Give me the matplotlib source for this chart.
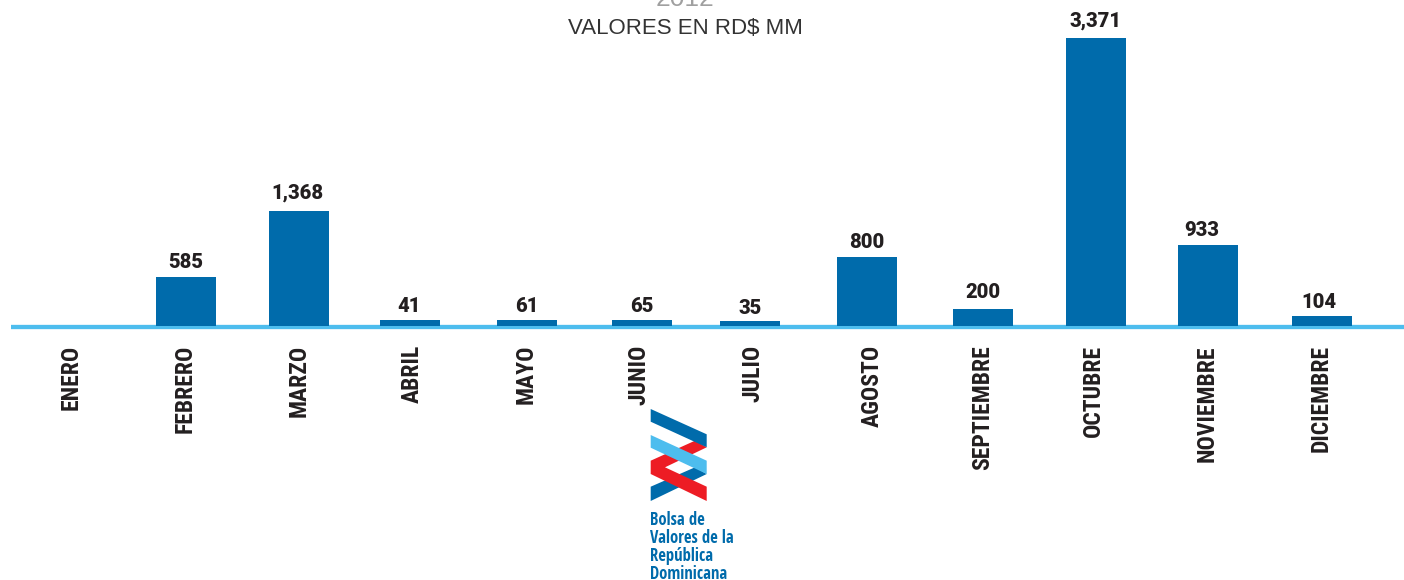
import matplotlib
matplotlib.use("Agg")
import matplotlib.pyplot as plt
from matplotlib.patches import Polygon

meses = ["ENERO", "FEBRERO", "MARZO", "ABRIL", "MAYO", "JUNIO", "JULIO", "AGOSTO",
         "SEPTIEMBRE", "OCTUBRE", "NOVIEMBRE", "DICIEMBRE"]
valores = ["", "585", "1,368", "41", "61", "65", "35", "800", "200", "3,371", "933", "104"]
# alturas como se ven en el dibujo (las barras chicas salen mas altas que su valor)
alturas = [0, 575, 1347, 70, 70, 70, 58, 808, 199, 3371, 948, 117]

# layout en pixeles, el original no esta espaciado parejo
x_barras = [72, 186, 299, 410, 527, 642, 750, 867, 983, 1096, 1208, 1322]
x_meses = [71, 185, 299, 412, 526, 639, 753, 872, 983, 1093, 1207, 1321]
x_valores = [72, 186, 297, 409, 527, 642, 750, 867, 983, 1095, 1202, 1319]
y_valores = [0, 260, 191, 305, 305, 305, 307, 240, 290, 19, 228, 301]
base = 326
escala = 288 / 3371

azul = "#006bab"
celeste = "#4dbdee"
rojo = "#ed1c24"
negro = "#231f20"

fig = plt.figure(figsize=(14.04, 5.80), dpi=100)
ax = fig.add_axes([0, 0, 1, 1])
ax.set_xlim(0, 1404)
ax.set_ylim(580, 0)
ax.axis("off")

ax.plot([11, 1404], [327, 327], color=celeste, lw=3.1, solid_capstyle="butt", zorder=1)

ax.bar(x_barras, [-h * escala for h in alturas], bottom=base, width=60, color=azul, zorder=2)

for i in range(len(meses)):
    ax.text(x_meses[i], 345, meses[i], rotation=90, ha="center", va="top", family="Roboto Condensed",
            weight="bold", fontsize=17, color=negro)
    if valores[i] != "":
        ax.text(x_valores[i], y_valores[i], valores[i], ha="center", va="center_baseline",
                family="Roboto", weight=900, fontsize=14.5, color=negro)

ax.text(685, 28, "VALORES EN RD$ MM", ha="center", va="center", family="Liberation Sans",
        fontsize=16, color="#333333")
ax.text(685, 6, "2012", ha="center", va="baseline", family="Liberation Sans",
        fontsize=19, color="#a0a0a0", clip_on=False)

# logo
ax.add_patch(Polygon([(650.7, 486.7), (695, 467.3), (706.7, 474), (650.7, 501)], color=azul, lw=0, zorder=3))
ax.add_patch(Polygon([(650.7, 460.7), (695, 440.7), (706.7, 447.3), (665, 467.3), (706.7, 486.7),
                      (706.7, 501), (650.7, 474)], color=rojo, lw=0, zorder=4))
ax.add_patch(Polygon([(650.7, 435), (706.7, 460.7), (706.7, 474), (650.7, 447.7)], color=celeste, lw=0, zorder=5))
ax.add_patch(Polygon([(650.7, 409), (706.7, 434.3), (706.7, 447.3), (650.7, 421.7)], color=azul, lw=0, zorder=6))

for j, linea in enumerate(["Bolsa de", "Valores de la", "República", "Dominicana"]):
    ax.text(650, 520 + j * 18, linea, ha="left", va="center", family="Open Sans Condensed", weight="bold",
            fontsize=12, color=azul)

fig.savefig("out.png", dpi=100)
